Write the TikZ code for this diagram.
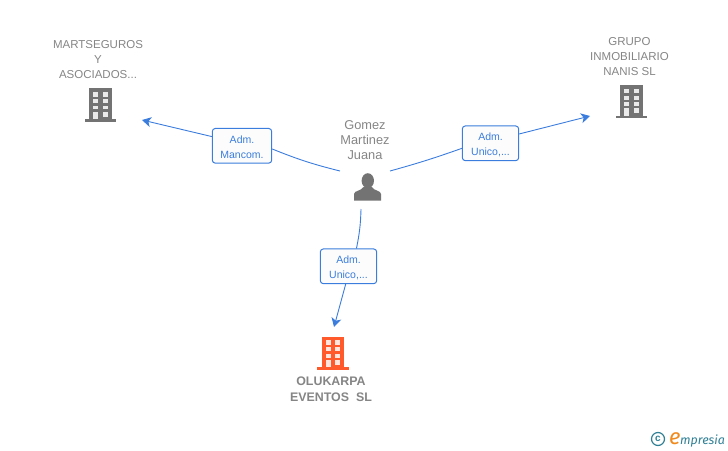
\documentclass[tikz,border=0pt]{standalone}
\usepackage{fontspec}
\setmainfont{Liberation Sans}
\newfontfamily\logofont{Fira Sans}
\usetikzlibrary{arrows.meta}
\definecolor{linkblue}{HTML}{3B7DDD}
\definecolor{icongray}{HTML}{737373}
\definecolor{textgray}{HTML}{858585}
\definecolor{iconorange}{HTML}{FF5A2B}
\definecolor{logoteal}{HTML}{2F7F95}
\definecolor{logoorange}{HTML}{F08A1D}
\tikzset{
    company/.style={text=textgray, align=center, inner sep=0pt, font=\fontsize{11.5}{15}\selectfont},
    owncompany/.style={text=textgray, align=center, inner sep=0pt, font=\fontsize{12.4}{16}\selectfont\bfseries},
    person/.style={text=textgray, align=center, inner sep=0pt, font=\fontsize{12.8}{15}\selectfont},
    role/.style={draw=linkblue, line width=1pt, fill=black!1, rounded corners=3pt, text=linkblue, align=center, inner sep=0pt,
        minimum height=34.7pt, font=\fontsize{10.5}{15.5}\selectfont},
    link/.style={draw=linkblue, line width=0.9pt},
    linkarrow/.style={link, -{Stealth[inset=2.5pt, length=9pt, width=10pt]}},
    iconspot/.style={inner sep=0pt, minimum width=31pt, minimum height=33pt}
}
% building icon drawn round a named node
\newcommand{\drawbuilding}[2]{
    \begin{scope}[shift={(#1.center)}]
        \fill[#2] (-11.3,-16.7) rectangle (11.3,14);
        \fill[#2] (-15.6,14) rectangle (15.6,16.7);
        \foreach \rowtop/\rowbot in {-13/-8.5, -6/-1.9, 0.5/4.3} {
            \fill[white, opacity=0.85] (-7.2,\rowtop) rectangle (-2.4,\rowbot);
            \fill[white, opacity=0.85] (2.4,\rowtop) rectangle (7.4,\rowbot);
        }
        \fill[white, opacity=0.85] (-7.2,6.7) rectangle (-2.4,14);
        \fill[white, opacity=0.85] (2.4,6.7) rectangle (7.4,11.5);
    \end{scope}
}
\begin{document}
\begin{tikzpicture}[x=1pt, y=-1pt]
    \useasboundingbox (0,0) rectangle (728,450);

    % Companies
    \node[iconspot] (martbuilding) at (100.5,105) {};
    \node[iconspot] (nanisbuilding) at (631.5,101.7) {};
    \node[iconspot] (olukarpabuilding) at (333,353.3) {};
    \drawbuilding{martbuilding}{icongray}
    \drawbuilding{nanisbuilding}{icongray}
    \drawbuilding{olukarpabuilding}{iconorange}

    \node[company] (martname) at (98,59.7) {MARTSEGUROS\\Y\\ASOCIADOS...};
    \node[company] (nanisname) at (629.5,56.7) {GRUPO\\INMOBILIARIO\\NANIS SL};
    \node[owncompany] (olukarpaname) at (331,389.5) {OLUKARPA\\EVENTOS\ \ SL};

    % Person
    \node[person] (gomezname) at (365,140) {Gomez\\Martinez\\Juana};
    \node[inner sep=0pt, minimum width=27pt, minimum height=28pt] (gomez) at (367.5,187) {};
    \begin{scope}[shift={(gomez.center)}]
        \fill[icongray] (0.3,-6.3) ellipse (6.2 and 7.5);
        \fill[icongray] (-13.5,13.5) -- (-13.5,7) .. controls (-13.5,3.5) and (-6,4) .. (-4,0)
            -- (4.5,0) .. controls (6.5,4) and (13.5,3.5) .. (13.5,7) -- (13.5,13.5) -- cycle;
    \end{scope}

    % Role boxes
    \node[role, minimum width=59.4pt] (mancom) at (242,145.8) {\rule{0pt}{10.4pt}Adm.\\Mancom.};
    \node[role, minimum width=56.4pt] (unicoright) at (490.5,143.3) {\rule{0pt}{10.4pt}Adm.\\Unico,...};
    \node[role, minimum width=56.4pt] (unicodown) at (348.5,266.3) {\rule{0pt}{10.4pt}Adm.\\Unico,...};

    % Free ends of the connectors
    \coordinate (gomezleft) at (340,171);
    \coordinate (gomezright) at (390,171);
    \coordinate (gomezdown) at (361,209);
    \coordinate (martend) at (142,120);
    \coordinate (nanisend) at (590,116);
    \coordinate (olukarpaend) at (334,327);

    % Connectors
    \draw[link] (gomezleft) to[bend left=4] (mancom.-6);
    \draw[linkarrow] (mancom.163) -- (martend);
    \draw[link] (gomezright) to[bend right=2] (unicoright.190);
    \draw[linkarrow] (unicoright.18) -- (nanisend);
    \draw[link] (gomezdown) to[bend left=5] (unicodown.66);
    \draw[linkarrow] (unicodown.261) -- (olukarpaend);

    % Logo
    \node[circle, draw=logoteal, line width=1.2pt, minimum size=13pt, inner sep=0pt, text=logoteal,
        font=\fontsize{10}{10}\selectfont\bfseries] (logoc) at (658,439) {c};
    \node[anchor=base west, inner sep=0pt, text=logoorange, font=\logofont\itshape\fontsize{22}{22}\selectfont] (logoe) at (669,444) {e};
    \node[anchor=base west, inner sep=0pt, text=logoteal, font=\logofont\itshape\fontsize{12.4}{12}\selectfont] (logoname) at (680,444) {mpresia};
\end{tikzpicture}
\end{document}
